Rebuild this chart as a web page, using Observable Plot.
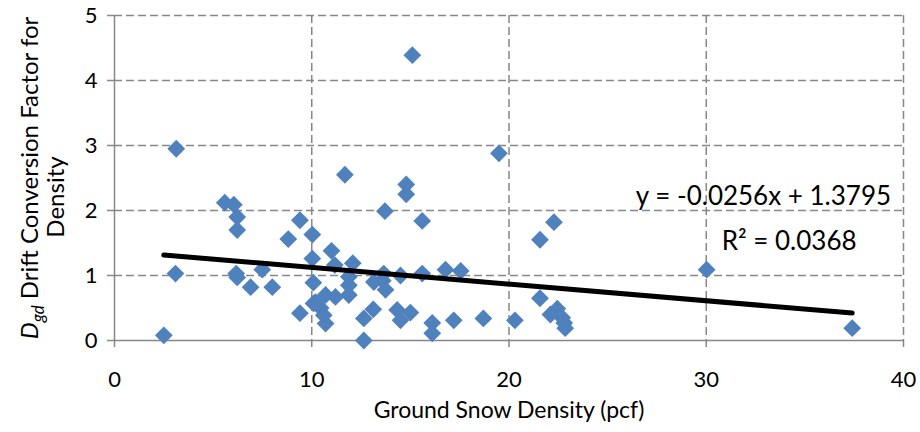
<!DOCTYPE html>
<html>
<head>
<meta charset="utf-8">
<script src="https://cdn.jsdelivr.net/npm/d3@7"></script>
<script src="https://cdn.jsdelivr.net/npm/@observablehq/plot@0.6"></script>
<style>
  body { margin: 0; background: #fff; }
  #chart { width: 920px; height: 432px; }
</style>
</head>
<body>
<div id="chart"></div>
<script>
// Ground snow density (pcf) of each observation
const density = [
  2.50, 3.13, 3.09, 5.59, 6.05, 6.22, 6.22, 6.17, 6.22, 6.90,
  7.49, 8.00, 9.40, 8.81, 10.03, 10.03, 10.08, 9.40, 10.09, 11.68,
  14.79, 14.79, 13.71, 15.60, 11.00, 11.17, 12.08, 11.88, 11.88, 11.88,
  13.15, 13.60, 13.74, 14.50, 15.60, 10.70, 11.20, 10.19, 10.45, 10.61,
  10.70, 12.64, 13.12, 12.64, 14.33, 14.50, 15.00, 16.11, 16.11, 16.78,
  17.55, 17.20, 18.70, 20.30, 19.49, 22.28, 21.57, 21.57, 22.10, 22.45,
  22.70, 22.80, 22.85, 15.10, 30.02, 37.40, 13.65
];
// Drift conversion factor for density of each observation
const factor = [
  0.08, 2.95, 1.03, 2.12, 2.09, 1.90, 1.70, 1.03, 0.97, 0.82,
  1.09, 0.82, 1.85, 1.56, 1.63, 1.26, 0.89, 0.42, 0.57, 2.55,
  2.40, 2.25, 1.99, 1.84, 1.38, 1.16, 1.19, 0.98, 0.85, 0.70,
  0.90, 0.92, 0.78, 1.00, 1.03, 0.70, 0.67, 0.59, 0.50, 0.39,
  0.26, 0.34, 0.48, 0.00, 0.47, 0.31, 0.43, 0.27, 0.11, 1.09,
  1.07, 0.31, 0.34, 0.31, 2.88, 1.82, 1.55, 0.65, 0.40, 0.49,
  0.35, 0.27, 0.19, 4.39, 1.09, 0.19, 1.03
];
const xTicks = [0, 10, 20, 30, 40];
const yTicks = [0, 1, 2, 3, 4, 5];

// Linear trendline reported for the data
const slope = -0.0256;
const intercept = 1.3795;
const rSquared = 0.0368;

const xTitle = "Ground Snow Density (pcf)";

const points = density.map((x, i) => ({x, y: factor[i]}));
const trend = d3.extent(density).map(x => ({x, y: slope * x + intercept}));

const font = "Lato, 'Open Sans', sans-serif";
const grey = "#878787";
const blue = "#4F81BD";

const plot = Plot.plot({
  width: 920,
  height: 432,
  marginLeft: 114,
  marginRight: 17,
  marginTop: 15,
  marginBottom: 92,
  style: {fontFamily: font, fontSize: "22px", color: "#000", background: "#fff", overflow: "visible"},
  x: {domain: [0, 40]},
  y: {domain: [0, 5]},
  marks: [
    Plot.gridX(xTicks.filter(d => d > 0), {stroke: grey, strokeOpacity: 1, strokeWidth: 1.5, strokeDasharray: "8,4"}),
    Plot.gridY(yTicks.filter(d => d > 0), {stroke: grey, strokeOpacity: 1, strokeWidth: 1.5, strokeDasharray: "8,4"}),
    Plot.ruleX([0], {stroke: grey, strokeWidth: 1.5}),
    Plot.ruleY([0], {stroke: grey, strokeWidth: 1.5}),
    Plot.axisX(xTicks, {tickSize: 7, tickPadding: 24, stroke: grey, strokeWidth: 1.5, fill: "#000", label: null, fontSize: 22, tickFormat: d => String(d)}),
    Plot.axisY(yTicks, {tickSize: 7, tickPadding: 10, stroke: grey, strokeWidth: 1.5, fill: "#000", label: null, fontSize: 22, tickFormat: d => String(d)}),
    Plot.dot(points, {x: "x", y: "y", symbol: "diamond2", r: 8, fill: blue, stroke: null}),
    Plot.line(trend, {x: "x", y: "y", stroke: "#000", strokeWidth: 5, strokeLinecap: "round"}),
    Plot.text([`y = ${slope}x + ${intercept}`], {x: 32.9, y: 2.22, fontSize: 26, fill: "#000"}),
    Plot.text([`R² = ${rSquared}`], {x: 34.2, y: 1.52, fontSize: 26, fill: "#000"}),
    Plot.text([xTitle], {frameAnchor: "bottom", dy: 77, fontSize: 23, fill: "#000"})
  ]
});

// Rotated two-line y-axis title with italic D and subscript gd
const svg = d3.select(plot);
const line1 = svg.append("text")
  .attr("transform", "translate(30,178) rotate(-90)")
  .attr("text-anchor", "middle")
  .attr("dy", "0.35em")
  .attr("fill", "#000")
  .style("font-size", "24px");
line1.append("tspan").attr("font-style", "italic").text("D");
line1.append("tspan").attr("font-style", "italic").attr("font-size", "17px").attr("dy", 6).text("gd");
line1.append("tspan").attr("dy", -6).text(" Drift Conversion Factor for");
svg.append("text")
  .attr("transform", "translate(56,197) rotate(-90)")
  .attr("text-anchor", "middle")
  .attr("dy", "0.35em")
  .attr("fill", "#000")
  .style("font-size", "24px")
  .text("Density");

document.getElementById("chart").append(plot);
</script>
</body>
</html>
